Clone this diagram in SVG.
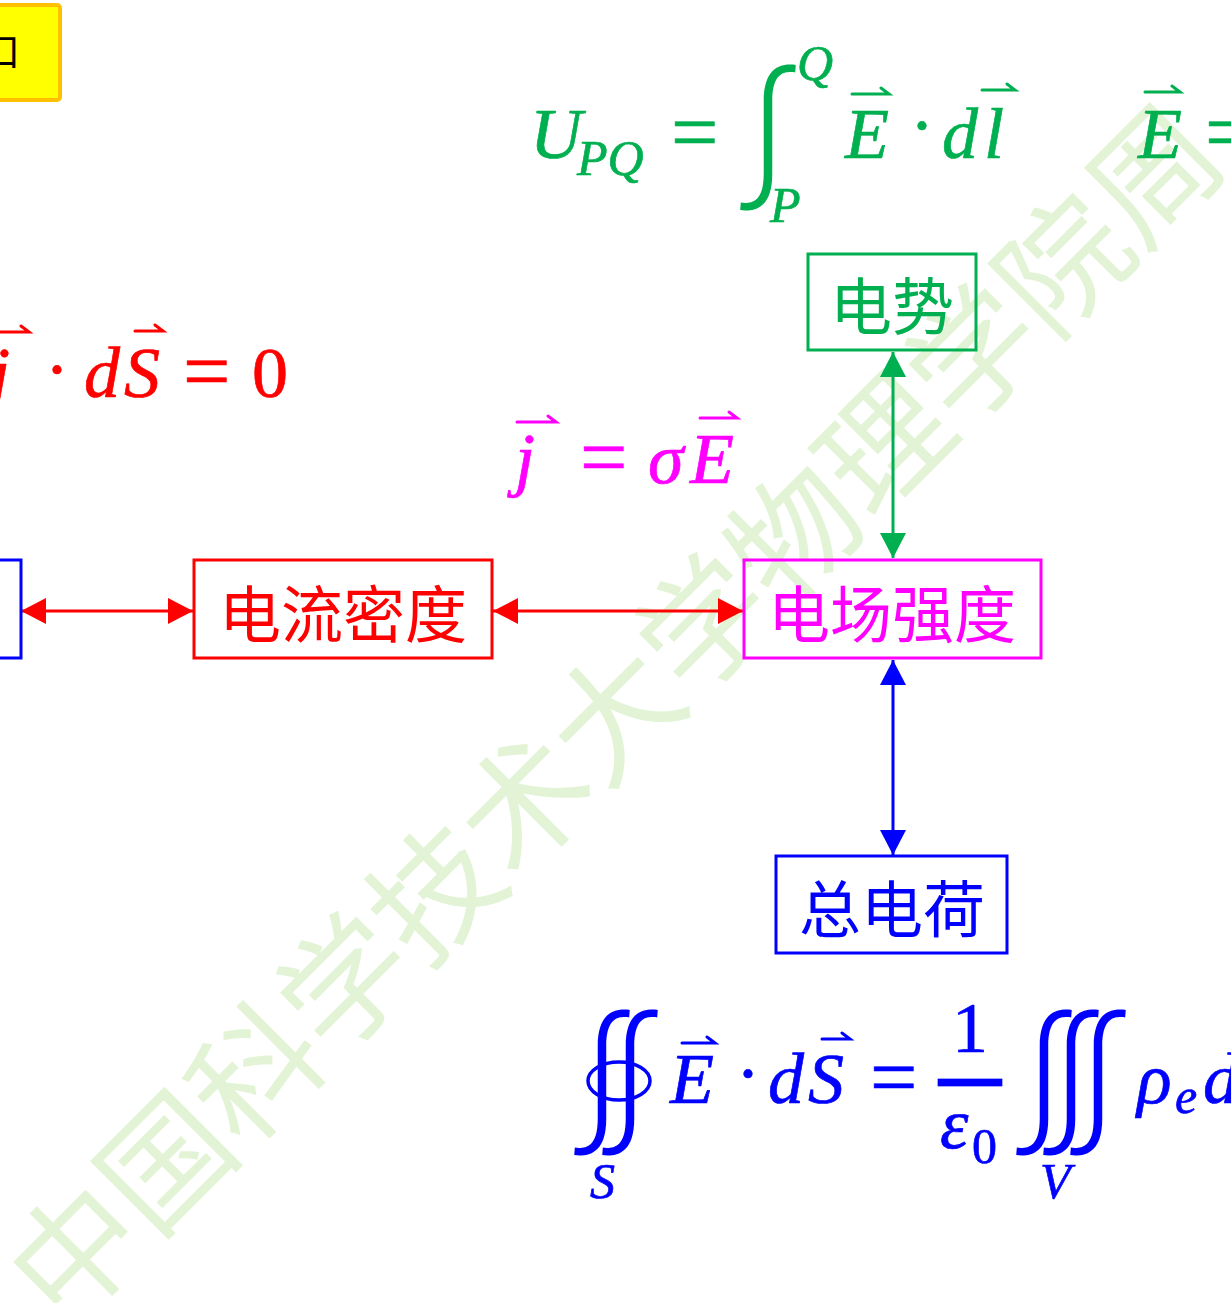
<svg xmlns="http://www.w3.org/2000/svg" width="1231" height="1303" viewBox="0 0 1231 1303">
<style>
.wm{font-family:"Noto Sans CJK SC",sans-serif;font-size:127px;fill:#e2f4d5}
.mi{font-family:"Liberation Serif",serif;font-style:italic;font-size:72px}
.mn{font-family:"Liberation Serif",serif;font-size:72px}
.sub{font-size:50px}
.eq{font-family:"Liberation Serif",serif;font-size:84px}
.int{font-family:"Noto Sans CJK SC",sans-serif;font-weight:200;font-size:157px;text-anchor:middle;stroke:none}
.vec{fill:none;stroke-width:3;stroke-linecap:round}
.g{fill:#00b050;stroke:#00b050;stroke-width:0.7}.r{fill:#ff0000;stroke:#ff0000;stroke-width:0.7}.p{fill:#ff00ff;stroke:#ff00ff;stroke-width:0.7}.b{fill:#0000ff;stroke:#0000ff;stroke-width:0.7}
.node rect{fill:none;stroke-width:3}
.node text{font-family:"Noto Sans CJK SC",sans-serif;font-size:62px;text-anchor:middle;dominant-baseline:central}
.conn line{stroke-width:3}
</style>
<defs>
<marker id="aR" viewBox="0 0 25 26" refX="25" refY="13" markerWidth="25" markerHeight="26" markerUnits="userSpaceOnUse" orient="auto-start-reverse"><path d="M0,0L25,13L0,26z" fill="#ff0000"/></marker>
<marker id="aG" viewBox="0 0 25 26" refX="25" refY="13" markerWidth="25" markerHeight="26" markerUnits="userSpaceOnUse" orient="auto-start-reverse"><path d="M0,0L25,13L0,26z" fill="#00b050"/></marker>
<marker id="aB" viewBox="0 0 25 26" refX="25" refY="13" markerWidth="25" markerHeight="26" markerUnits="userSpaceOnUse" orient="auto-start-reverse"><path d="M0,0L25,13L0,26z" fill="#0000ff"/></marker>
</defs>
<rect width="1231" height="1303" fill="#ffffff"/>
<text class="wm" transform="translate(64,1330) rotate(-45)">中国科学技术大学物理学院周</text>

<g id="title-box">
<rect x="-20" y="5" width="80" height="95" rx="3" fill="#ffff00" stroke="#ffc000" stroke-width="4"/>
<text x="-18" y="65" font-family="Noto Sans CJK SC,sans-serif" font-size="38" fill="#000">口</text>
</g>

<g id="formula-potential" class="g">
<text class="mi" x="530" y="158">U</text>
<text class="mi sub" x="577" y="175">PQ</text>
<text class="eq" x="671" y="161">=</text>
<text class="int" x="768" y="197" font-size="164">∫</text>
<text class="mi sub" x="797" y="80">Q</text>
<text class="mi sub" x="770" y="222">P</text>
<text class="mi" x="845" y="158">E</text>
<text class="mn" x="910" y="150">·</text>
<text class="mi" x="942" y="158">d</text>
<text class="mi" x="984" y="158">l</text>
<text class="mi" x="1138" y="158">E</text>
<text class="eq" x="1205" y="161">=</text>
<path class="vec" d="M852 94H889l-8-6M982 90H1015l-8-6M1145 92H1180l-8-6"/>
</g>

<g id="formula-continuity" class="r">
<text class="mi" x="-10" y="397">j</text>
<text class="mn" x="45" y="394">·</text>
<text class="mi" x="84" y="397">d</text>
<text class="mi" x="124" y="397">S</text>
<text class="eq" x="183" y="400">=</text>
<text class="mn" x="252" y="397">0</text>
<path class="vec" d="M-5 332H29l-8-6M135 331H163l-8-6"/>
</g>

<g id="formula-ohm" class="p">
<text class="mi" x="515" y="483" font-size="76">j</text>
<text class="eq" x="580" y="486" font-size="86">=</text>
<text class="mi" x="648" y="483" font-size="76">σ</text>
<text class="mi" x="690" y="483" font-size="76">E</text>
<path class="vec" d="M517 422H556l-8-6M700 418H737l-8-6"/>
</g>

<g id="formula-gauss" class="b">
<text class="int" x="602" y="1142">∫</text>
<text class="int" x="630" y="1142">∫</text>
<ellipse cx="619" cy="1081" rx="31" ry="19" fill="none" stroke-width="3.5"/>
<text class="mi sub" x="590" y="1198">S</text>
<text class="mi" x="670" y="1103">E</text>
<text class="mn" x="736" y="1098">·</text>
<text class="mi" x="768" y="1103">d</text>
<text class="mi" x="808" y="1103">S</text>
<text class="eq" x="870" y="1106">=</text>
<text class="mn" x="952" y="1052">1</text>
<rect x="938" y="1079" width="64" height="7"/>
<text class="mi" x="940" y="1148">ε</text>
<text class="mn sub" x="972" y="1163">0</text>
<text class="int" x="1044" y="1142">∫</text>
<text class="int" x="1071" y="1142">∫</text>
<text class="int" x="1098" y="1142">∫</text>
<text class="mi sub" x="1040" y="1198">V</text>
<text class="mi" x="1137" y="1103">ρ</text>
<text class="mi sub" x="1175" y="1113">e</text>
<text class="mi" x="1203" y="1103">d</text>
<path class="vec" d="M682 1043H715l-8-6M822 1039H850l-8-6"/>
</g>

<g id="connectors" class="conn">
<line x1="21" y1="611" x2="193" y2="611" stroke="#ff0000" marker-start="url(#aR)" marker-end="url(#aR)"/>
<line x1="493" y1="611" x2="743" y2="611" stroke="#ff0000" marker-start="url(#aR)" marker-end="url(#aR)"/>
<line x1="893" y1="352" x2="893" y2="558" stroke="#00b050" marker-start="url(#aG)" marker-end="url(#aG)"/>
<line x1="893" y1="660" x2="893" y2="855" stroke="#0000ff" marker-start="url(#aB)" marker-end="url(#aB)"/>
</g>

<g id="node-left" class="node">
<rect x="-10" y="560" width="31" height="98" stroke="#0000ff"/>
</g>
<g id="node-current-density" class="node">
<rect x="194" y="560" width="298" height="98" stroke="#ff0000"/>
<text x="343" y="611" fill="#ff0000">电流密度</text>
</g>
<g id="node-field" class="node">
<rect x="744" y="560" width="297" height="98" stroke="#ff00ff"/>
<text x="892" y="611" fill="#ff00ff">电场强度</text>
</g>
<g id="node-potential" class="node">
<rect x="808" y="254" width="168" height="96" stroke="#00b050"/>
<text x="892" y="303" fill="#00b050">电势</text>
</g>
<g id="node-charge" class="node">
<rect x="776" y="856" width="231" height="97" stroke="#0000ff"/>
<text x="892" y="906" fill="#0000ff">总电荷</text>
</g>
</svg>
